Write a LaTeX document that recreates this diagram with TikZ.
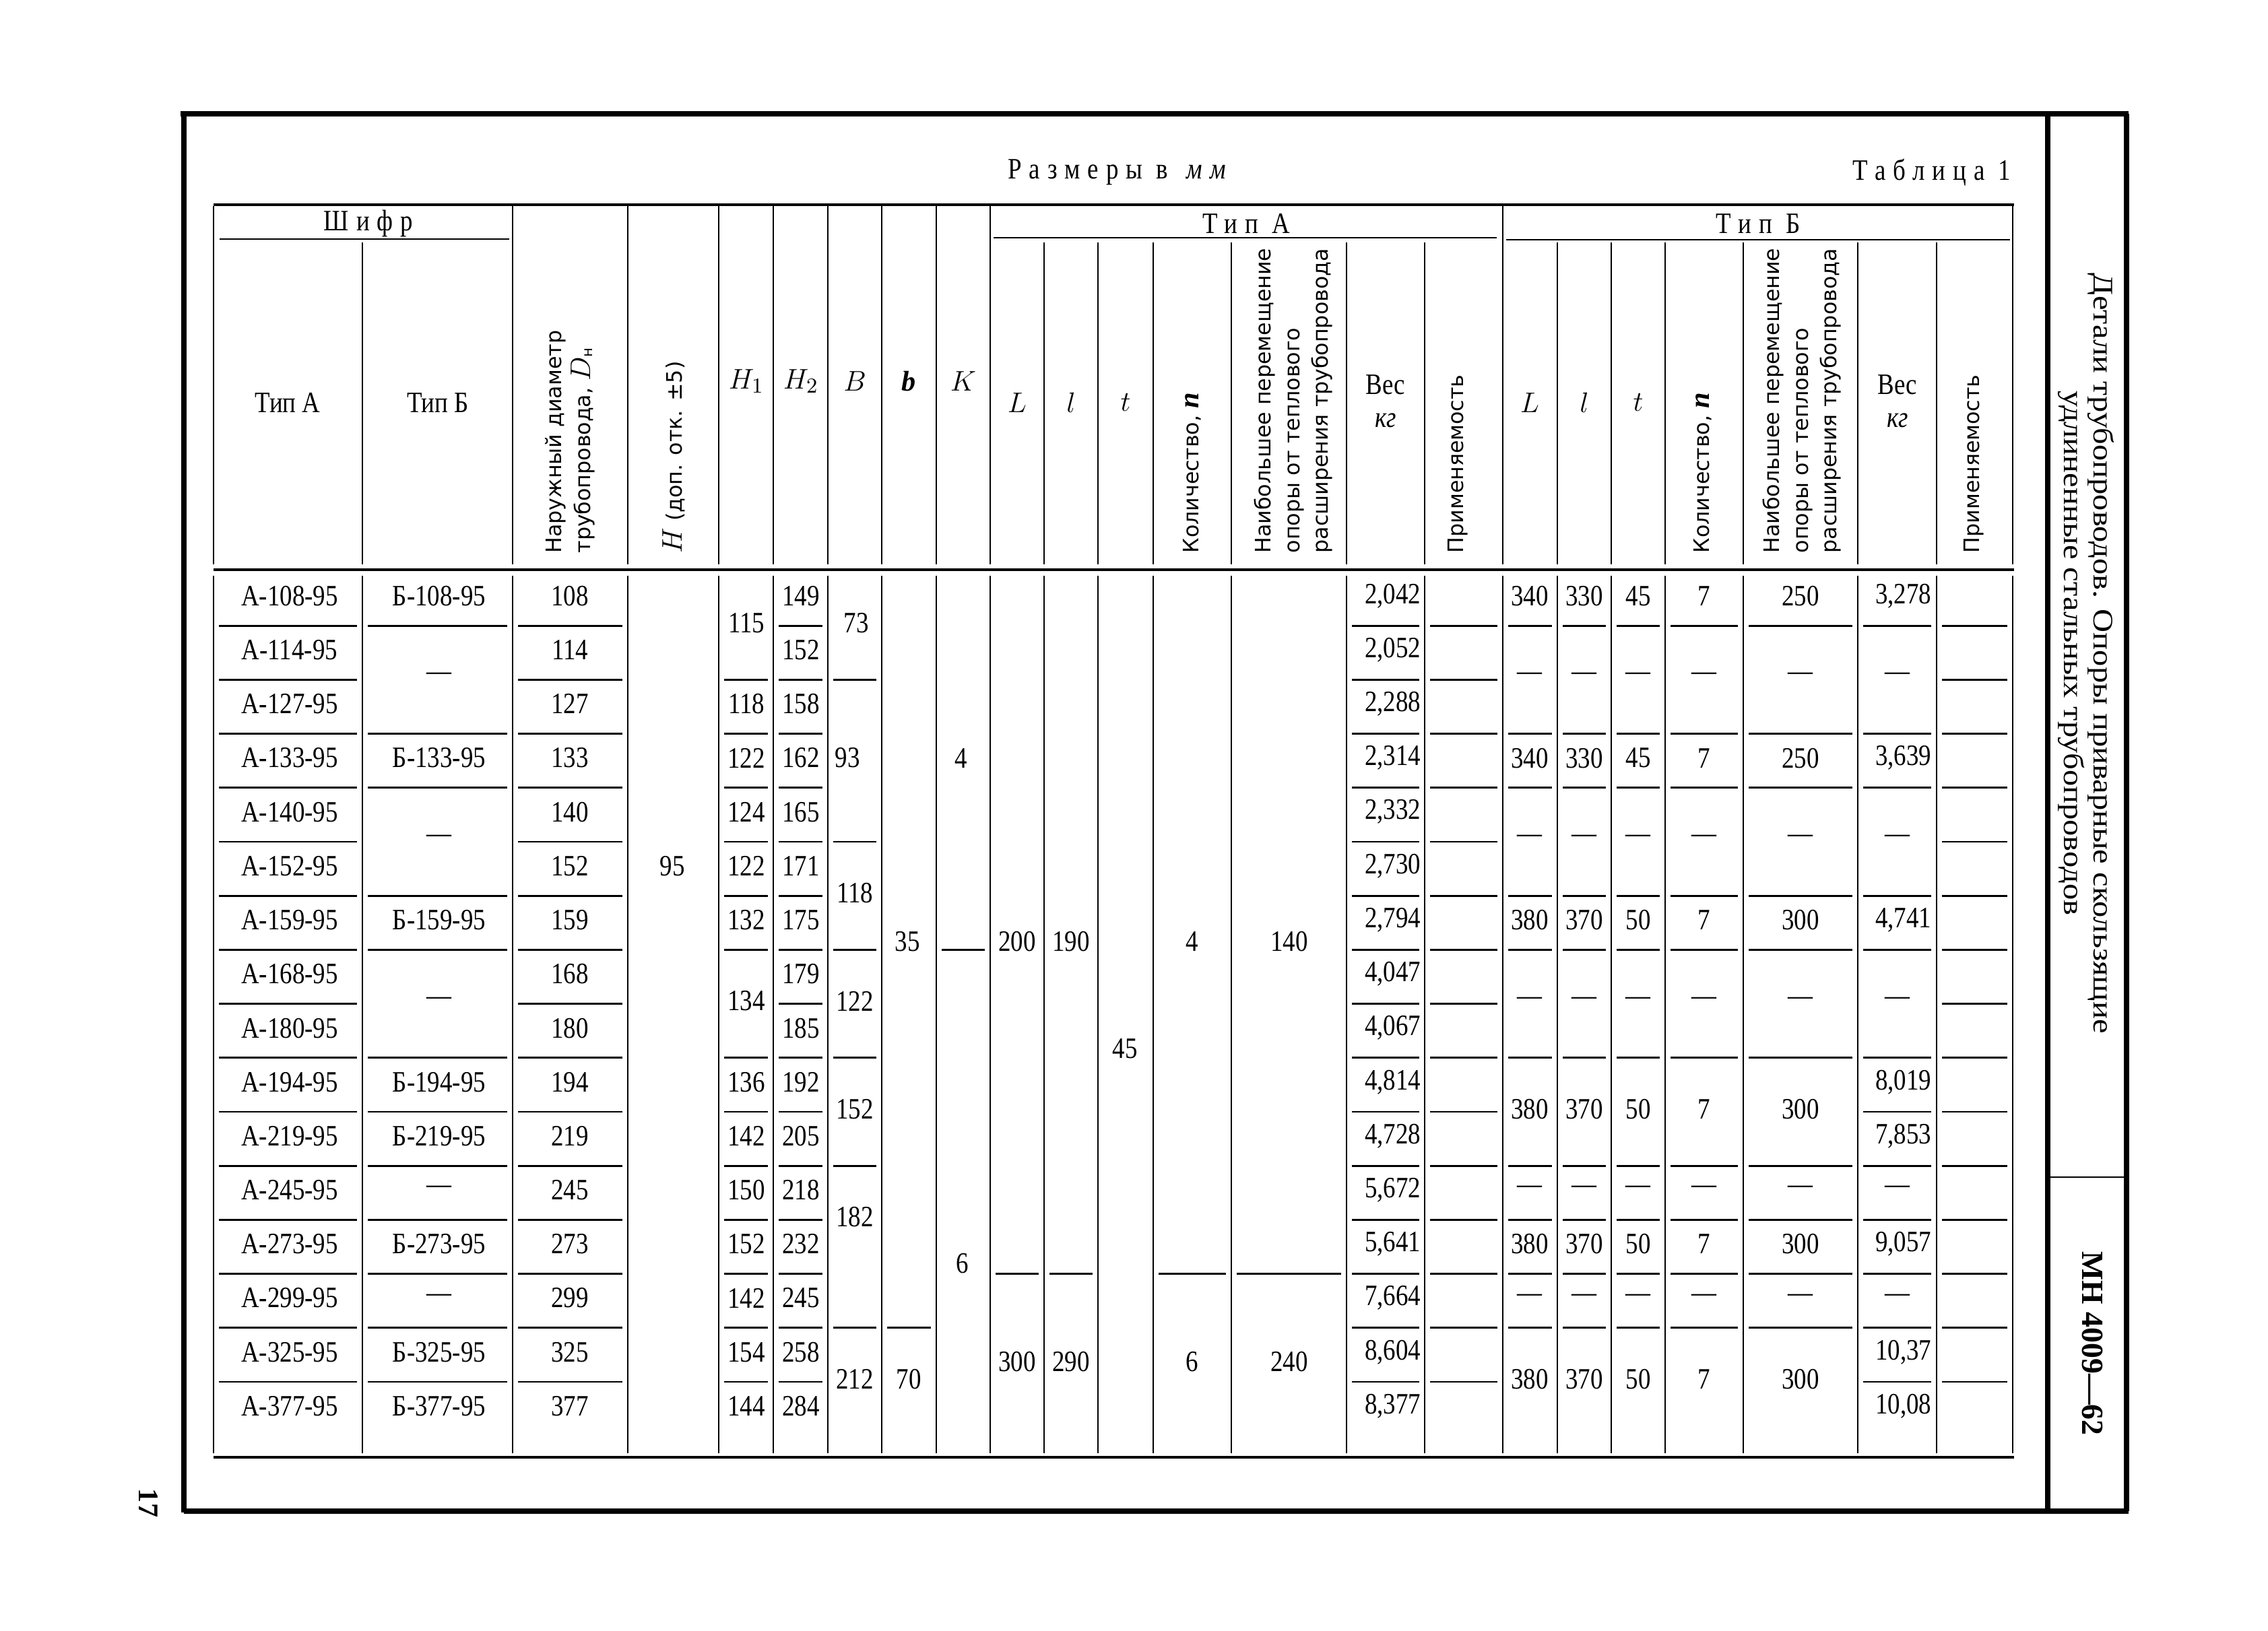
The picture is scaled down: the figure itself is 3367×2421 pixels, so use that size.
\documentclass[tikz,border=0pt]{standalone}
\usepackage{fontspec}
\setmainfont{Liberation Serif}
\newfontfamily\datafont{Liberation Serif}[FakeStretch=0.84]
\newfontfamily\headfont{DejaVu Sans}
\newfontfamily\titlefont{Liberation Serif}[FakeStretch=1.15]

% y of a text line in data row #1 (x.5 = on the row boundary)
\newcommand{\ry}[1]{849+80.2*#1+36}
% short rules between rows: left x, right x, boundaries
\newcommand{\hsep}[3]{\foreach \k in {#3}{\draw[cell] ({#1+8},{849+80.2*\k}) -- ({#2-8},{849+80.2*\k});}}
\newcommand{\spaced}[1]{{\addfontfeature{LetterSpace=25}#1}}
% italic letter inside a rotated header
\newcommand{\hsym}[1]{{\rmfamily\fontsize{12}{12}\selectfont\bfseries\itshape #1}}

\tikzset{
  cell/.style={line width=0.8pt},
  rule/.style={line width=1.1pt},
  frame/.style={line width=2.4pt},
  val/.style={font=\datafont\fontsize{12.5}{14}\selectfont, inner sep=0pt},
  sym/.style={font=\fontsize{12.5}{14}\selectfont, inner sep=0pt},
  vhead/.style={font=\headfont\fontsize{9}{12.2}\selectfont, rotate=90, anchor=west, align=left, inner sep=0pt},
}

\begin{document}
\begin{tikzpicture}[x=0.01cm,y=-0.01cm]

	\useasboundingbox (0,0) rectangle (3367,2421);
	\fill[white] (0,0) rectangle (3367,2421);

	% page frame and title block
	\draw[frame] (268,169) -- (3160,169);
	\draw[frame] (273,169) -- (273,2246);
	\draw[frame] (273,2244) -- (3160,2244);
	\draw[frame] (3040,169) -- (3040,2244);
	\draw[frame] (3157,169) -- (3157,2244);
	\draw[cell] (3040,1748) -- (3157,1748);

	\node[rotate=-90, align=center, font=\titlefont\fontsize{12}{12.4}\selectfont] (title) at (3097,970)
		{Детали трубопроводов. Опоры приварные скользящие\\удлиненные стальных трубопроводов};
	\node[rotate=-90, font=\bfseries\fontsize{13}{15}\selectfont] (code) at (3106,1995) {МН 4009—62};
	\node[rotate=-90, font=\bfseries\fontsize{12}{14}\selectfont] (page) at (220,2232) {17};

	\node[val] (dims) at (1658,256) {\spaced{Размеры в \,{\itshape мм}}};
	\node[val, anchor=east] (tabno) at (2986,256) {\spaced{Таблица 1}};

	% table rules
	\draw[rule] (317,304) -- (2990,304);
	\draw[rule] (317,846) -- (2990,846);
	\draw[rule] (317,2164) -- (2990,2164);
	\draw[cell] (326,355) -- (756,355);
	\draw[cell] (1475,353) -- (2222,353);
	\draw[cell] (2236,356) -- (2984,356);

	\foreach \x in {317,761,932,1067,1148,1229,1309,1390,1470,2231,2988}
		\draw[cell] (\x,306) -- (\x,838);
	\foreach \x in {538,1550,1630,1712,1828,1999,2115,2312,2392,2472,2588,2758,2875}
		\draw[cell] (\x,360) -- (\x,838);
	\foreach \x in {317,538,761,932,1067,1148,1229,1309,1390,1470,1550,1630,1712,1828,1999,2115,2231,2312,2392,2472,2588,2758,2875,2988}
		\draw[cell] (\x,855) -- (\x,2158);

	% header
	\node[val] (shifr) at (547,332) {\spaced{Шифр}};
	\node[val] (grpA) at (1850,332) {\spaced{Тип А}};
	\node[val] (grpB) at (2610,332) {\spaced{Тип Б}};
	\node[val] (hA) at (427,598) {Тип А};
	\node[val] (hB) at (650,598) {Тип Б};
	\node[vhead] (hD) at (846,822) {Наружный диаметр\\трубопровода, {\fontsize{11.5}{12}\selectfont$D$}\textsubscript{н}};
	\node[vhead] (hH) at (1000,822) {{\fontsize{12}{12}\selectfont$H$} (доп. отк. ±5)};
	\node[sym] (hH1) at (1108,566) {$H_1$};
	\node[sym] (hH2) at (1189,566) {$H_2$};
	\node[sym] (hBb) at (1269,566) {$B$};
	\node[sym] (hb) at (1349,566) {\hsym{b}};
	\node[sym] (hK) at (1430,566) {$K$};

	\node[sym] (hLA) at (1510,598) {$L$};
	\node[sym] (hlA) at (1590,598) {$l$};
	\node[sym] (htA) at (1671,598) {$t$};
	\node[vhead] (hnA) at (1770,822) {Количество, \hsym{n}};
	\node[vhead] (hmA) at (1920,822) {Наибольшее перемещение\\опоры от теплового\\расширения трубопровода};
	\node[val] (hwA) at (2057,571) {Вес};
	\node[val] (hkA) at (2057,624) {\itshape кг};
	\node[vhead] (hpA) at (2164,822) {Применяемость};

	\node[sym] (hLB) at (2271,598) {$L$};
	\node[sym] (hlB) at (2352,598) {$l$};
	\node[sym] (htB) at (2432,598) {$t$};
	\node[vhead] (hnB) at (2528,822) {Количество, \hsym{n}};
	\node[vhead] (hmB) at (2675,822) {Наибольшее перемещение\\опоры от теплового\\расширения трубопровода};
	\node[val] (hwB) at (2817,571) {Вес};
	\node[val] (hkB) at (2817,624) {\itshape кг};
	\node[vhead] (hpB) at (2930,822) {Применяемость};

	% rules between rows
	\hsep{317}{538}{1,...,15}
	\hsep{538}{761}{1,3,4,6,7,9,10,11,12,13,14,15}
	\hsep{761}{932}{1,...,15}
	\hsep{1067}{1148}{2,3,4,5,6,7,9,10,11,12,13,14,15}
	\hsep{1148}{1229}{1,...,15}
	\hsep{1229}{1309}{2,5,7,9,11,14}
	\hsep{1309}{1390}{14}
	\hsep{1390}{1470}{7}
	\hsep{1470}{1550}{13}
	\hsep{1550}{1630}{13}
	\hsep{1712}{1828}{13}
	\hsep{1828}{1999}{13}
	\hsep{1999}{2115}{1,...,15}
	\hsep{2115}{2231}{1,...,15}
	\foreach \a/\b in {2231/2312,2312/2392,2392/2472,2472/2588,2588/2758}
		{\hsep{\a}{\b}{1,3,4,6,7,9,11,12,13,14}}
	\hsep{2758}{2875}{1,3,4,6,7,9,10,11,12,13,14,15}
	\hsep{2875}{2988}{1,...,15}

	% data
	\foreach \v [count=\i from 0] in {108,114,127,133,140,152,159,168,180,194,219,245,273,299,325,377}{
		\node[val] (ta\i) at (430,{\ry{\i}}) {А-\v-95};
		\node[val] (dn\i) at (846,{\ry{\i}}) {\v};
	}
	\foreach \r/\v in {0/108,3/133,6/159,9/194,10/219,12/273,14/325,15/377}
		\node[val] (tb\r) at (652,{\ry{\r}}) {Б-\v-95};
	\foreach \r [count=\q] in {1.5,4.5,7.5,11,13}
		\node[val] (tbd\q) at (652,{\ry{\r}}) {—};

	\node[val] (hh) at (998,{\ry{5}}) {95};
	\foreach \r/\v [count=\q] in {0.5/115,2/118,3/122,4/124,5/122,6/132,7.5/134,9/136,10/142,11/150,12/152,13/142,14/154,15/144}
		\node[val] (ha\q) at (1108,{\ry{\r}}) {\v};
	\foreach \v [count=\i from 0] in {149,152,158,162,165,171,175,179,185,192,205,218,232,245,258,284}
		\node[val] (hb\i) at (1189,{\ry{\i}}) {\v};
	\foreach \r/\v/\x [count=\q] in {0.5/73/1271,3/93/1258,5.5/118/1269,7.5/122/1269,9.5/152/1269,11.5/182/1269,14.5/212/1269}
		\node[val] (bb\q) at (\x,{\ry{\r}}) {\v};
	\node[val] (bs1) at (1347,{\ry{6.4}}) {35};
	\node[val] (bs2) at (1349,{\ry{14.5}}) {70};
	\node[val] (kk1) at (1427,{\ry{3}}) {4};
	\node[val] (kk2) at (1429,{\ry{12.36}}) {6};

	% Тип А
	\node[val] (LA1) at (1510,{\ry{6.4}}) {200};
	\node[val] (LA2) at (1510,{\ry{14.18}}) {300};
	\node[val] (lA1) at (1590,{\ry{6.4}}) {190};
	\node[val] (lA2) at (1590,{\ry{14.18}}) {290};
	\node[val] (tA) at (1670,{\ry{8.38}}) {45};
	\node[val] (nA1) at (1770,{\ry{6.4}}) {4};
	\node[val] (nA2) at (1770,{\ry{14.18}}) {6};
	\node[val] (mA1) at (1914,{\ry{6.4}}) {140};
	\node[val] (mA2) at (1914,{\ry{14.18}}) {240};
	\foreach \v [count=\i from 0] in {{2,042},{2,052},{2,288},{2,314},{2,332},{2,730},{2,794},{4,047},{4,067},{4,814},{4,728},{5,672},{5,641},{7,664},{8,604},{8,377}}
		\node[val, anchor=east] (wA\i) at (2110,{\ry{\i}}) {\v};

	% Тип Б
	\foreach \r/\ba/\bb/\bc/\bd [count=\q] in {0/340/330/45/250,3/340/330/45/250,6/380/370/50/300,9.5/380/370/50/300,12/380/370/50/300,14.5/380/370/50/300}{
		\node[val] (LB\q) at (2271,{\ry{\r}}) {\ba};
		\node[val] (lB\q) at (2352,{\ry{\r}}) {\bb};
		\node[val] (tB\q) at (2432,{\ry{\r}}) {\bc};
		\node[val] (nB\q) at (2530,{\ry{\r}}) {7};
		\node[val] (mB\q) at (2673,{\ry{\r}}) {\bd};
	}
	\foreach \r/\v [count=\q] in {0/{3,278},3/{3,639},6/{4,741},9/{8,019},10/{7,853},12/{9,057},14/{10,37},15/{10,08}}
		\node[val, anchor=east] (wB\q) at (2868,{\ry{\r}}) {\v};
	\foreach \r [count=\q] in {1.5,4.5,7.5,11,13}
		\foreach \x [count=\c] in {2271,2352,2432,2530,2673,2817}
			\node[val] (dB\q-\c) at (\x,{\ry{\r}}) {—};

\end{tikzpicture}
\end{document}
